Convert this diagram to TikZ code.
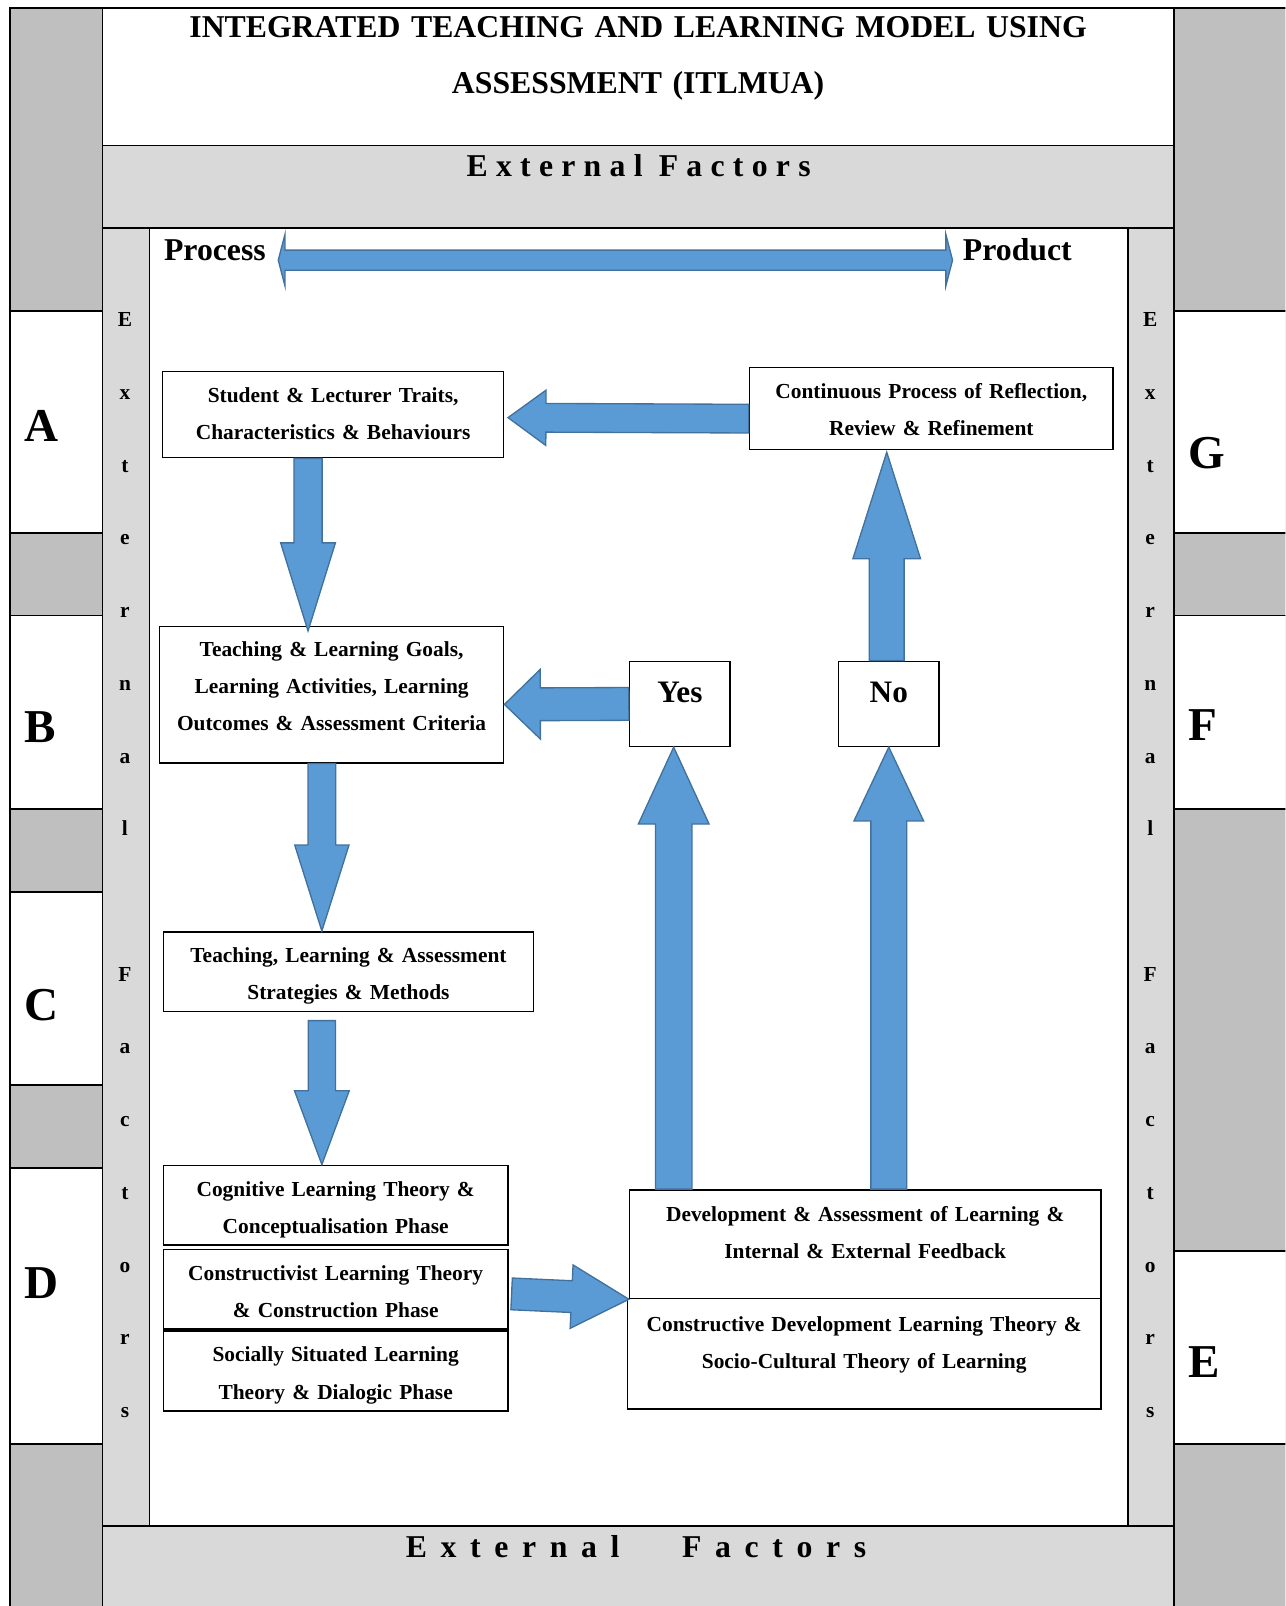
\documentclass[tikz,border=0pt]{standalone}
\usepackage{fontspec}
\setmainfont{Liberation Serif}
\usetikzlibrary{calc}

\definecolor{arrowblue}{HTML}{5B9BD5}
\definecolor{arrowline}{HTML}{41719C}
\definecolor{bandgray}{HTML}{D9D9D9}
\definecolor{sidegray}{HTML}{BFBFBF}

% tail, tip, half shaft, half head, head length
\newcommand{\blockarrow}[5]{%
  \coordinate (tail) at (#1);
  \coordinate (tip) at (#2);
  \coordinate (neck) at ($(tip)!#5!(tail)$);
  \draw[fat] ($(tail)!#3!90:(tip)$) -- ($(neck)!#3!90:(tip)$)
    -- ($(neck)!#4!90:(tip)$) -- (tip)
    -- ($(neck)!#4!-90:(tip)$) -- ($(neck)!#3!-90:(tip)$)
    -- ($(tail)!#3!-90:(tip)$) -- cycle;}

% left tip, right tip, half shaft, half head, head length
\newcommand{\doublearrow}[5]{%
  \coordinate (lefttip) at (#1);
  \coordinate (righttip) at (#2);
  \coordinate (leftneck) at ($(lefttip)!#5!(righttip)$);
  \coordinate (rightneck) at ($(righttip)!#5!(lefttip)$);
  \draw[fat] (lefttip) -- ($(leftneck)!#4!90:(righttip)$) -- ($(leftneck)!#3!90:(righttip)$)
    -- ($(rightneck)!#3!90:(righttip)$) -- ($(rightneck)!#4!90:(righttip)$) -- (righttip)
    -- ($(rightneck)!#4!-90:(righttip)$) -- ($(rightneck)!#3!-90:(righttip)$)
    -- ($(leftneck)!#3!-90:(righttip)$) -- ($(leftneck)!#4!-90:(righttip)$) -- cycle;}

\begin{document}
\begin{tikzpicture}[x=1pt,y=-1pt,
  frame/.style={draw=black,line width=1.8pt},
  box/.style={draw=black,line width=1.5pt,fill=white,inner sep=0pt,align=center,
    font=\bfseries\fontsize{20.9}{36.3}\selectfont},
  answer/.style={draw=black,line width=1.5pt,fill=white,inner sep=0pt,
    font=\bfseries\fontsize{30.5}{36}\selectfont},
  fat/.style={fill=arrowblue,draw=arrowline,line width=1.3pt},
  bigtext/.style={inner sep=0pt,font=\bfseries\fontsize{31}{54.7}\selectfont},
  sideletter/.style={inner sep=0pt,font=\bfseries\fontsize{46}{46}\selectfont},
  strip/.style={inner sep=0pt,text width=30pt,align=center,
    font=\bfseries\fontsize{20.9}{71}\selectfont}]

\useasboundingbox (0,0) rectangle (1255,1568);
\clip (0,0) rectangle (1255,1568);

% outer columns
\fill[sidegray] (10,8) rectangle (100,1575);
\fill[sidegray] (1146,8) rectangle (1262,1575);
\foreach \ya/\yb in {304/520,601/790,871/1059,1140/1410}
  \draw[frame,fill=white] (10,\ya) rectangle (100,\yb);
\foreach \ya/\yb in {304/520,601/790,1221/1410}
  \draw[frame,fill=white] (1146,\ya) rectangle (1262,\yb);
\draw[frame] (10,1575) -- (10,8) -- (1262,8);

\draw[frame,fill=white] (100,8) rectangle (1146,142);
\draw[frame,fill=bandgray] (100,142) rectangle (1146,223);
\draw[frame,fill=bandgray] (100,223) rectangle (146,1490);
\draw[frame,fill=bandgray] (1101,223) rectangle (1146,1490);
\draw[frame,fill=bandgray] (100,1490) rectangle (1146,1575);

\node[bigtext,anchor=base,text width=1000pt,align=center] (title) at (623,36.5)
  {INTEGRATED TEACHING AND LEARNING MODEL USING\\ASSESSMENT (ITLMUA)};
\node[bigtext,anchor=base] (topband) at (623.5,172.6)
  {\addfontfeature{LetterSpace=26}External Factors};
\node[bigtext,anchor=base] (bottomband) at (621,1520.3)
  {\addfontfeature{LetterSpace=43}External\hspace{61pt}Factors};
\node[bigtext,anchor=base west] (process) at (160,254) {Process};
\node[bigtext,anchor=base west] (product) at (940,254) {Product};

\node[strip,anchor=base] (leftstrip) at (122,319)
  {E\\x\\t\\e\\r\\n\\a\\l\\[71pt]F\\a\\c\\t\\o\\r\\s};
\node[strip,anchor=base] (rightstrip) at (1123,319)
  {E\\x\\t\\e\\r\\n\\a\\l\\[71pt]F\\a\\c\\t\\o\\r\\s};

\node[sideletter,anchor=base west] (A) at (24,431) {A};
\node[sideletter,anchor=base west] (B) at (24,725) {B};
\node[sideletter,anchor=base west] (C) at (24,996) {C};
\node[sideletter,anchor=base west] (D) at (24,1268) {D};
\node[sideletter,anchor=base west] (G) at (1160,457) {G};
\node[sideletter,anchor=base west] (F) at (1160,723) {F};
\node[sideletter,anchor=base west] (E) at (1160,1345) {E};

\node[box,anchor=north west,text width=333pt,text height=30pt,text depth=54pt] (stud) at (158,362)
  {Student \& Lecturer Traits,\\Characteristics \& Behaviours};
\node[box,anchor=north west,text width=355pt,text height=30pt,text depth=50pt] (cont) at (731,358)
  {Continuous Process of Reflection,\\Review \& Refinement};
\node[box,anchor=north west,text width=336pt,text height=29pt,text depth=104pt] (goals) at (155,611)
  {Teaching \& Learning Goals,\\Learning Activities, Learning\\Outcomes \& Assessment Criteria};
\node[answer,anchor=north west,minimum width=98pt,text height=40pt,text depth=43pt] (yes) at (614,645) {Yes};
\node[answer,anchor=north west,minimum width=98pt,text height=40pt,text depth=43pt] (no) at (818,645) {No};
\node[box,anchor=north west,text width=361pt,text height=30pt,text depth=48pt] (tla) at (159,909)
  {Teaching, Learning \& Assessment\\Strategies \& Methods};
\node[box,anchor=north west,text width=336pt,text height=30pt,text depth=48pt] (cog) at (159,1137)
  {Cognitive Learning Theory \&\\Conceptualisation Phase};
\node[box,anchor=north west,text width=336pt,text height=30pt,text depth=48pt] (con) at (159,1219)
  {Constructivist Learning Theory\\\& Construction Phase};
\node[box,anchor=north west,text width=336pt,text height=30pt,text depth=48pt] (soc) at (159,1299)
  {Socially Situated Learning\\Theory \& Dialogic Phase};
\node[box,anchor=north west,text width=460pt,text height=30.5pt,text depth=75.5pt] (dev) at (614,1161)
  {Development \& Assessment of Learning \&\\Internal \& External Feedback};
\node[box,anchor=north west,text width=462pt,text height=32pt,text depth=76pt] (cdl) at (612,1267)
  {Constructive Development Learning Theory \&\\Socio-Cultural Theory of Learning};

\doublearrow{[xshift=12pt]process.base east}{[xshift=-10pt]product.base west}{9.8pt}{25pt}{6.5pt}

\blockarrow{[xshift=-24.5pt]stud.south}{[xshift=-23pt,yshift=-5pt]goals.north}{13.75pt}{26.75pt}{86pt}
\blockarrow{[xshift=-9.5pt]goals.south}{[xshift=-26pt]tla.north}{13.5pt}{26.5pt}{84pt}
\blockarrow{[xshift=-26pt,yshift=-8pt]tla.south}{[xshift=-13.5pt]cog.north}{13.3pt}{26.7pt}{72pt}
\blockarrow{[yshift=-10pt]cont.west}{[xshift=3.5pt,yshift=-3pt]stud.east}{14pt}{27pt}{37pt}
\blockarrow{yes.west}{[yshift=-9.5pt]goals.east}{16pt}{34pt}{35pt}
\blockarrow{[xshift=3pt,yshift=-4.5pt]con.east}{dev.south west}{15.5pt}{31pt}{56pt}
\blockarrow{$(yes.south |- dev.north)+(-6,0)$}{[xshift=-6pt]yes.south}{17.8pt}{34.5pt}{75pt}
\blockarrow{no.south |- dev.north}{no.south}{17.5pt}{34pt}{72pt}
\blockarrow{[xshift=-2pt]no.north}{$(no.north |- cont.south)+(-2,2)$}{17pt}{33pt}{104pt}

\end{tikzpicture}
\end{document}
